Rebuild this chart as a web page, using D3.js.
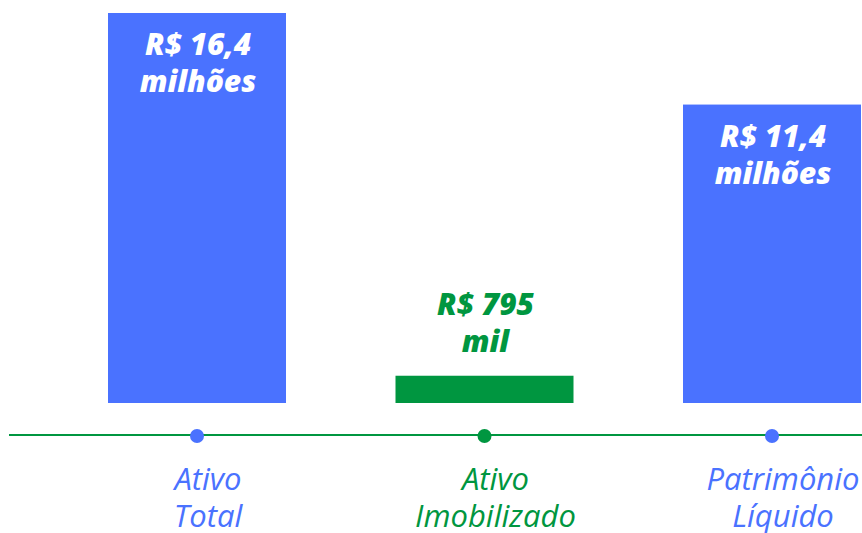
<!DOCTYPE html>
<html><head><meta charset="utf-8">
<script src="https://cdn.jsdelivr.net/npm/d3@7"></script>
<style>
html,body{margin:0;padding:0;background:#fff;overflow:hidden}
svg{display:block}
</style></head>
<body>
<svg id="chart" width="862" height="533"></svg>
<script>
const categories = ["Ativo Total", "Ativo Imobilizado", "Patrimônio Líquido"];
const labelLines = [["Ativo", "Total"], ["Ativo", "Imobilizado"], ["Patrimônio", "Líquido"]];
const values = [16.4, 0.795, 11.4]; // R$ milhões
const valueLabels = [["R$ 16,4", "milhões"], ["R$ 795", "mil"], ["R$ 11,4", "milhões"]];
const colors = ["#4a72ff", "#009640", "#4a72ff"];

const svg = d3.select("#chart");
const font = "'Open Sans', sans-serif";
const baseY = 403;

const x = d3.scalePoint().domain(categories).range([197, 772]);
const y = d3.scaleSymlog().constant(15).domain([0, 16.4]).range([baseY, 13]);
const barW = 178;

// bars
svg.selectAll("rect.bar").data(categories).enter().append("rect")
  .attr("class", "bar")
  .attr("x", d => x(d) - barW / 2)
  .attr("y", (d, i) => y(values[i]))
  .attr("width", barW)
  .attr("height", (d, i) => baseY - y(values[i]))
  .attr("fill", (d, i) => colors[i]);

// value labels
categories.forEach((c, i) => {
  const inside = i !== 1;
  const top = y(values[i]);
  const y0 = inside ? top + 42 : top - 61;
  const cx = x(c) + 1;
  const t = svg.append("text")
    .attr("text-anchor", "middle")
    .attr("font-family", font)
    .attr("font-style", "italic")
    .attr("font-weight", 800)
    .attr("font-size", 30)
    .attr("fill", inside ? "#ffffff" : colors[i]);
  valueLabels[i].forEach((l, j) => {
    t.append("tspan").attr("x", cx).attr("y", y0 + j * 37).text(l);
  });
});

// axis line
svg.append("line")
  .attr("x1", 9).attr("x2", 862)
  .attr("y1", 435).attr("y2", 435)
  .attr("stroke", "#009640").attr("stroke-width", 2);

// dots
svg.selectAll("circle.dot").data(categories).enter().append("circle")
  .attr("cx", d => x(d)).attr("cy", 436).attr("r", 7)
  .attr("fill", (d, i) => colors[i]);

// category labels
categories.forEach((c, i) => {
  const t = svg.append("text")
    .attr("text-anchor", "middle")
    .attr("font-family", font)
    .attr("font-style", "italic")
    .attr("font-weight", 500)
    .attr("font-size", 31)
    .attr("fill", colors[i]);
  labelLines[i].forEach((l, j) => {
    t.append("tspan").attr("x", x(c) + 11).attr("y", 490 + j * 37).text(l);
  });
});
</script>
</body></html>
